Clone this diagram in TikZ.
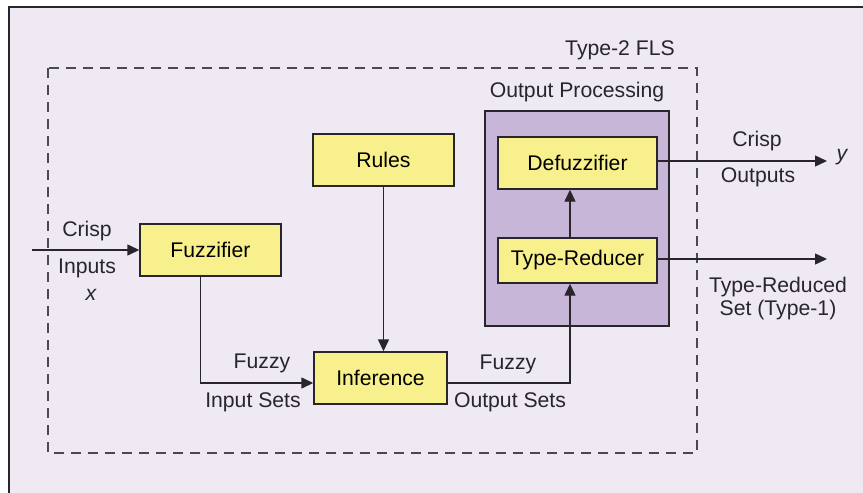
\documentclass[tikz,border=0pt]{standalone}
\usepackage{fontspec}
\setmainfont{Liberation Sans}
\usetikzlibrary{arrows.meta,positioning,calc}
\definecolor{lavender}{RGB}{239,233,244}
\definecolor{procfill}{RGB}{199,182,216}
\definecolor{blockfill}{RGB}{248,240,140}
\definecolor{inkgray}{RGB}{40,37,43}

\tikzset{
  block/.style={draw=inkgray, fill=blockfill, line width=0.7pt, inner sep=0pt},
  flow/.style={-{Triangle[length=6pt,width=5.5pt]}, line width=0.7pt, inkgray},
  lbl/.style={font=\fontsize{10.6pt}{12.6pt}\selectfont, inkgray, inner sep=1pt}
}

\begin{document}
\begin{tikzpicture}[x=0.5pt, y=-0.5pt, every node/.style={font=\fontsize{10.6pt}{12.6pt}\selectfont}]
\useasboundingbox (0,0) rectangle (863,493);
% page frame, cut at right and bottom
\fill[lavender] (9,7) rectangle (863,493);
\draw[inkgray, line width=0.7pt] (9,493) -- (9,7) -- (863,7);

% type-2 FLS boundary
\draw[dashed, dash pattern=on 5pt off 3.5pt, gray!40!inkgray, line width=0.7pt]
  (48,68) rectangle (697,453);
\node[lbl] (fls) at (620,50) {Type-2 FLS};

% output processing stage
\draw[draw=inkgray, fill=procfill, line width=0.7pt] (485,111) rectangle (669,326);
\node[lbl] (proc) at (577,92) {Output Processing};

% blocks
\node[block, minimum width=70.5pt, minimum height=26pt] (fuzz) at (210.5,250) {Fuzzifier};
\node[block, minimum width=70.5pt, minimum height=26pt] (rules) at (383.5,160) {Rules};
\node[block, minimum width=66.5pt, minimum height=26pt] (inf) at (380.5,378) {Inference};
\node[block, minimum width=79.5pt, minimum height=26pt] (defuzz) at (577.5,163) {Defuzzifier};
\node[block, minimum width=79.5pt, minimum height=22.5pt] (tred) at (577.5,260.5) {Type-Reducer};

% free ends
\coordinate (xin) at (32,250);
\coordinate (yout) at (827,161);
\coordinate (tsout) at (827,259);

% connectors
\draw[flow] (xin) -- (fuzz.west);
\draw[flow] ([xshift=-5pt]fuzz.south) |- ([yshift=-2.5pt]inf.west);
\draw[flow] (rules.south) -- (inf.north -| rules.south);
\draw[flow] ([yshift=-2.5pt]inf.east) -| ([xshift=-3.75pt]tred.south);
\draw[flow] ([xshift=-3.75pt]tred.north) -- ([xshift=-3.75pt]defuzz.south);
\draw[flow] (defuzz.east |- yout) -- (yout);
\draw[flow] (tred.east |- tsout) -- (tsout);

% signal labels
\node[lbl] (cin) at (87,231) {Crisp};
\node[lbl] (inp) at (87,268) {Inputs};
\node[lbl] (xvar) at (91,295) {\itshape x};
\node[lbl] (fzin) at (262,363) {Fuzzy};
\node[lbl] (insets) at (253,402) {Input Sets};
\node[lbl] (fzout) at (508,364) {Fuzzy};
\node[lbl] (outsets) at (510,402) {Output Sets};
\node[lbl] (cout) at (757,141) {Crisp};
\node[lbl] (outs) at (758,177) {Outputs};
\node[lbl] (yvar) at (842,157) {\itshape y};
\node[lbl] (trset) at (778,287) {Type-Reduced};
\node[lbl] (trtype) at (778,310) {Set (Type-1)};
\end{tikzpicture}
\end{document}
